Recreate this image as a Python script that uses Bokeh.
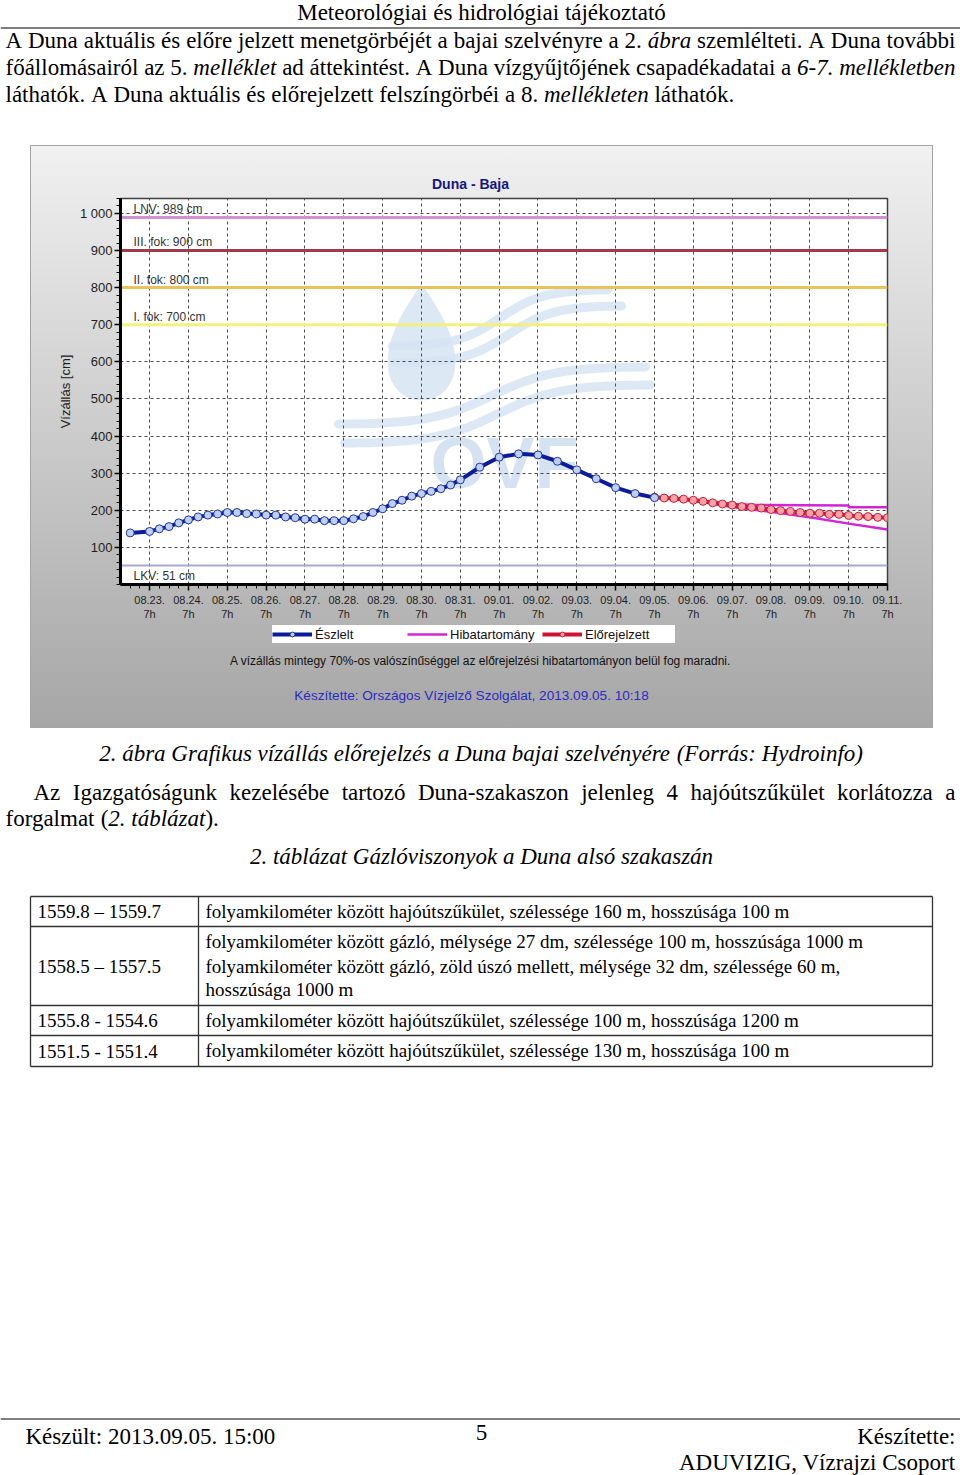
import math
from bokeh.plotting import figure
from bokeh.models import (Range1d, FixedTicker, Legend, LegendItem, Span, Spacer,
                          ColumnDataSource)
from bokeh.layouts import column, row
from bokeh.embed import file_html
from bokeh.resources import INLINE
from bokeh.core.properties import value

# ------------------------------------------------------------------ data
# time axis: hours counted from 2013.08.23. 7h
obs_hours = [-12, 0, 6, 12, 18, 24, 30, 36, 42, 48, 54, 60, 66, 72, 78, 84, 90,
             96, 102, 108, 114, 120, 126, 132, 138, 144, 150, 156, 162, 168,
             174, 180, 186, 192, 204, 216, 228, 240, 252, 264, 276, 288, 300, 312]
obs_levels = [139, 143, 150, 156, 166, 174, 182, 187, 190, 194, 194, 191, 190,
              187, 187, 182, 180, 176, 176, 172, 172, 172, 177, 183, 194, 204,
              218, 227, 238, 245, 251, 258, 268, 282, 316, 343, 352, 349, 332,
              309, 285, 261, 245, 234]

fc_hours = [312, 318, 324, 330, 336, 342, 348, 354, 360, 366, 372, 378, 384,
            390, 396, 402, 408, 414, 420, 426, 432, 438, 444, 450, 456]
fc_levels = [235, 233, 232, 230, 227, 224, 220, 217, 214, 210, 208, 206, 202,
             199, 197, 194, 192, 192, 189, 189, 186, 184, 183, 181, 180]

band_upper_hours = [312, 336, 360, 375, 432, 432, 456]
band_upper = [235, 229, 217, 214, 213, 208, 208]
band_lower_hours = [312, 336, 360, 384, 408, 432, 456]
band_lower = [235, 226, 209, 196, 181, 164, 148]

threshold_names = ["LNV: 989 cm", "III. fok: 900 cm", "II. fok: 800 cm",
                   "I. fok: 700 cm", "LKV: 51 cm"]
threshold_levels = [989, 900, 800, 700, 51]

day_labels = ["08.23.", "08.24.", "08.25.", "08.26.", "08.27.", "08.28.",
              "08.29.", "08.30.", "08.31.", "09.01.", "09.02.", "09.03.",
              "09.04.", "09.05.", "09.06.", "09.07.", "09.08.", "09.09.",
              "09.10.", "09.11."]
day_hours = [0, 24, 48, 72, 96, 120, 144, 168, 192, 216, 240, 264, 288, 312,
             336, 360, 384, 408, 432, 456]
y_tick_values = [100, 200, 300, 400, 500, 600, 700, 800, 900, 1000]
y_tick_labels = ["100", "200", "300", "400", "500", "600", "700", "800", "900", "1 000"]

legend_labels = ["Észlelt", "Hibatartomány", "Előrejelzett"]

table_km = ["1559.8 – 1559.7", "1558.5 – 1557.5", "1555.8 - 1554.6", "1551.5 - 1551.4"]
table_desc = [
    ["folyamkilométer között hajóútszűkület, szélessége 160 m, hosszúsága 100 m"],
    ["folyamkilométer között gázló, mélysége 27 dm, szélessége 100 m, hosszúsága 1000 m",
     "folyamkilométer között gázló, zöld úszó mellett, mélysége 32 dm, szélessége 60 m,",
     "hosszúsága 1000 m"],
    ["folyamkilométer között hajóútszűkület, szélessége 100 m, hosszúsága 1200 m"],
    ["folyamkilométer között hajóútszűkület, szélessége 130 m, hosszúsága 100 m"],
]

# ------------------------------------------------------------------ styles
SERIF = "Liberation Serif"
SANS = "Liberation Sans"
threshold_colors = ["#d391d3", "#a33a4a", "#e8c35c", "#f3f07c", "#a7a7d4"]
threshold_widths = [3, 3, 3, 3, 2]
threshold_label_dy = [-8, -8, -8, -8, 10]
OBS_LINE = dict(line_color="#0b1b9e", line_width=4)
OBS_PTS = dict(marker="circle", size=8, fill_color="#bcd0f4", line_color="#24349c", line_width=1)
FC_LINE = dict(line_color="#cf1232", line_width=4)
FC_PTS = dict(marker="circle", size=8, fill_color="#f7a3a6", line_color="#c8203c", line_width=1)
BAND_LINE = dict(line_color="#d424d4", line_width=2.5)
WATERMARK = "#d5e2f2"

# Times-compatible advance widths (per 1000 em) for justified text layout
ROMAN_W, ITALIC_W = {}, {}
def _set(tbl, chars, w):
    for c in chars:
        tbl[c] = w
_set(ROMAN_W, " .,", 250); _set(ROMAN_W, "ijlt:;", 278); _set(ROMAN_W, "fr-()I[]", 333)
_set(ROMAN_W, "sJ", 389); _set(ROMAN_W, "acez", 444)
_set(ROMAN_W, "bdghknopquvxy0123456789–", 500); _set(ROMAN_W, "FPS", 556)
_set(ROMAN_W, "ELTZ", 611); _set(ROMAN_W, "BCR", 667); _set(ROMAN_W, "ADGHKNOQUVXYw", 722)
_set(ROMAN_W, "m", 778); _set(ROMAN_W, "%", 833); _set(ROMAN_W, "M", 889); _set(ROMAN_W, "W", 944)
_set(ITALIC_W, " .,", 250); _set(ITALIC_W, "ijltf", 278); _set(ITALIC_W, "-()I:", 333)
_set(ITALIC_W, "srz", 389); _set(ITALIC_W, "cekvy", 444)
_set(ITALIC_W, "abdghnopqux0123456789", 500); _set(ITALIC_W, "AFLP", 611)
_set(ITALIC_W, "w", 667); _set(ITALIC_W, "mGDHKNOU", 722)
ACC = str.maketrans("áÁéÉíÍóÓöÖőŐúÚüÜűŰ", "aAeEiIoOoOoOuUuUuU")

def tw(s, it, size):
    tbl = ITALIC_W if it else ROMAN_W
    return sum(tbl.get(c, 500) for c in s.translate(ACC)) * size / 1000.0

def parse(markup):
    words, it = [], False
    for w in markup.split(" "):
        pieces = []
        for k, part in enumerate(w.split("*")):
            if k > 0:
                it = not it
            if part:
                pieces.append((part, it))
        words.append(pieces)
    return words

def place_line(out, markup, y, x0, x1=None, size=23, align="left"):
    words = parse(markup)
    widths = [sum(tw(p, it, size) for p, it in w) for w in words]
    gap = ROMAN_W[" "] * size / 1000.0
    if x1 is not None and len(words) > 1:
        gap = (x1 - x0 - sum(widths)) / (len(words) - 1)
    total = sum(widths) + gap * (len(words) - 1)
    x = x0 - total / 2 if align == "center" else x0
    for w, wd in zip(words, widths):
        xx = x
        for p, it in w:
            out.append((xx, y, p, it, size))
            xx += tw(p, it, size)
        x += wd + gap

def render(fig, pieces):
    groups = {}
    for x, y, p, it, size in pieces:
        groups.setdefault((it, size), []).append((x, y, p))
    for (it, size), items in groups.items():
        src = ColumnDataSource(dict(x=[a[0] for a in items], y=[a[1] for a in items],
                                    t=[a[2] for a in items]))
        fig.text(x="x", y="y", text="t", source=src, text_font=value(SERIF),
                 text_font_size=f"{size}px", text_font_style="italic" if it else "normal",
                 text_baseline="middle", text_align="left", text_color="black")

PAGE_W = 960
def page_fig(x0, x1, y0, y1, fill="white"):
    f = figure(width=x1 - x0, height=y1 - y0, x_range=Range1d(x0, x1), y_range=Range1d(y1, y0),
               toolbar_location=None, output_backend="svg", min_border=0,
               x_axis_type=None, y_axis_type=None, outline_line_color=None, frame_align=False)
    if fill is None:
        f.background_fill_alpha = 0
        f.border_fill_alpha = 0
    else:
        f.background_fill_color = fill
        f.border_fill_color = fill
    f.grid.visible = False
    return f

# chart image geometry (page pixels)
CX0, CX1, CY0, CY1 = 30, 933, 145, 728
HEAD_Y1, MAIN_Y1 = 196, 624
BORDER_L, BORDER_R, BORDER_T, BORDER_B = 90, 46, 2, 40
X_RANGE, Y_RANGE = (-18, 456), (0, 1040)

def grad(y):
    f = (y - CY0) / (CY1 - CY0)
    c = int(round(241 - (241 - 166) * f))
    return f"#{c:02x}{c:02x}{c:02x}"

def chart_css(y0, y1, top=False, bottom=False):
    sh = ["inset 1px 0 0 #a4a4a4", "inset -1px 0 0 #a4a4a4"]
    if top:
        sh.append("inset 0 1px 0 #a4a4a4")
    if bottom:
        sh.append("inset 0 -1px 0 #a4a4a4")
    return {"background": f"linear-gradient(to bottom, {grad(y0)}, {grad(y1)})",
            "box-shadow": ", ".join(sh)}

# ------------------------------------------------------------------ top text
top = page_fig(0, PAGE_W, 0, CY0)
pcs = []
place_line(pcs, "Meteorológiai és hidrológiai tájékoztató", 12, 481, size=23, align="center")
place_line(pcs, "A Duna aktuális és előre jelzett menetgörbéjét a bajai szelvényre a 2. *ábra* szemlélteti. A Duna további", 40, 5, 955)
place_line(pcs, "főállomásairól az 5. *melléklet* ad áttekintést. A Duna vízgyűjtőjének csapadékadatai a *6-7. mellékletben*", 67, 5, 955)
place_line(pcs, "láthatók. A Duna aktuális és előrejelzett felszíngörbéi a 8. *mellékleten* láthatók.", 94, 5)
render(top, pcs)
top.segment(x0=[0], y0=[27.5], x1=[PAGE_W], y1=[27.5], line_color="black", line_width=1.2)

# ------------------------------------------------------------------ chart header (title)
head = page_fig(CX0, CX1, CY0, HEAD_Y1, fill=None)
head.styles = chart_css(CY0, HEAD_Y1, top=True)
head.text(x=[470], y=[183], text=["Duna - Baja"], text_font=value(SANS), text_font_size="14px",
          text_font_style="bold", text_color="#15157c", text_align="center", text_baseline="middle")

# ------------------------------------------------------------------ chart body
chart = figure(width=CX1 - CX0, height=MAIN_Y1 - HEAD_Y1, x_range=Range1d(*X_RANGE),
               y_range=Range1d(*Y_RANGE), toolbar_location=None, output_backend="svg",
               min_border_left=BORDER_L, min_border_right=BORDER_R,
               min_border_top=BORDER_T, min_border_bottom=BORDER_B, frame_align=False,
               background_fill_color="white", border_fill_alpha=0,
               outline_line_color="#404040", outline_line_width=1.5)
chart.styles = chart_css(HEAD_Y1, MAIN_Y1)

# faint OVF logo watermark (drawn in page pixels, mapped onto the chart's scales)
FX0, FX1 = CX0 + BORDER_L, CX1 - BORDER_R
FY0, FY1 = HEAD_Y1 + BORDER_T, MAIN_Y1 - BORDER_B
def to_data(px, py):
    hx = X_RANGE[0] + (px - FX0) * (X_RANGE[1] - X_RANGE[0]) / (FX1 - FX0)
    vy = Y_RANGE[0] + (FY1 - py) * (Y_RANGE[1] - Y_RANGE[0]) / (FY1 - FY0)
    return hx, vy
drop = [to_data(421 + 44 * math.sin(t) * math.sin(t / 2), 342 - 58 * math.cos(t))
        for t in [2 * math.pi * k / 60 for k in range(61)]]
chart.patch([p[0] for p in drop], [p[1] for p in drop], fill_color=WATERMARK, fill_alpha=0.8,
            line_color=None, level="image")
waves = [(392, 607, 346, 289), (395, 621, 363, 305), (338, 645, 424, 366), (344, 650, 443, 384)]
for x0, x1, y0, y1 in waves:
    pts = []
    for k in range(41):
        px = x0 + (x1 - x0) * k / 40
        s = 0.5 + 0.5 * math.tanh((px - (x0 + x1) / 2) / ((x1 - x0) / 5))
        pts.append(to_data(px, y0 + (y1 - y0) * s))
    chart.line([p[0] for p in pts], [p[1] for p in pts], line_color=WATERMARK, line_width=9,
               line_alpha=0.8, line_cap="round", level="image")
ovf_x, ovf_y = to_data(430, 462)
chart.text(x=[ovf_x], y=[ovf_y], text=["OVF"], text_font=value(SANS), text_font_style="bold",
           text_font_size="72px", text_color=WATERMARK, text_baseline="middle", level="image")

for lvl, col, w in zip(threshold_levels, threshold_colors, threshold_widths):
    chart.add_layout(Span(location=lvl, dimension="width", line_color=col, line_width=w,
                          level="underlay"))
thr_src = ColumnDataSource(dict(x=[X_RANGE[0]] * len(threshold_levels), y=threshold_levels,
                                t=threshold_names, dy=threshold_label_dy))
chart.text(x="x", y="y", text="t", source=thr_src, x_offset=13, y_offset="dy",
           text_font=value(SANS), text_font_size="12px", text_color="#333333",
           text_baseline="middle")

chart.line(band_upper_hours, band_upper, **BAND_LINE)
chart.line(band_lower_hours, band_lower, **BAND_LINE)
chart.line(fc_hours, fc_levels, **FC_LINE)
chart.scatter(fc_hours, fc_levels, **FC_PTS)
chart.line(obs_hours, obs_levels, **OBS_LINE)
chart.scatter(obs_hours, obs_levels, **OBS_PTS)

chart.xaxis.ticker = FixedTicker(ticks=day_hours, minor_ticks=list(range(-12, 457, 6)))
chart.xaxis.major_label_overrides = {h: f"{d}\n7h" for h, d in zip(day_hours, day_labels)}
chart.yaxis.ticker = FixedTicker(ticks=y_tick_values, minor_ticks=list(range(0, 1041, 20)))
chart.yaxis.major_label_overrides = {v: l for v, l in zip(y_tick_values, y_tick_labels)}
for ax in (chart.xaxis[0], chart.yaxis[0]):
    ax.axis_line_width = 3
    ax.axis_line_color = "black"
    ax.major_tick_line_color = "black"
    ax.major_tick_line_width = 1.5
    ax.major_tick_out = 6
    ax.major_tick_in = 0
    ax.minor_tick_line_color = "black"
    ax.minor_tick_line_width = 1
    ax.minor_tick_out = 4
    ax.minor_tick_in = 0
    ax.major_label_text_font = SANS
    ax.major_label_text_color = "#1e1e1e"
chart.xaxis.major_label_text_font_size = "11px"
chart.xaxis.major_label_standoff = 3
chart.yaxis.major_label_text_font_size = "13px"
chart.yaxis.major_label_standoff = 2
chart.yaxis.axis_label = "Vízállás [cm]"
chart.yaxis.axis_label_text_font = SANS
chart.yaxis.axis_label_text_font_size = "13px"
chart.yaxis.axis_label_text_font_style = "normal"
chart.yaxis.axis_label_text_color = "#222222"
chart.yaxis.axis_label_standoff = 4
chart.grid.grid_line_color = "#4a4a4a"
chart.grid.grid_line_dash = "3 3"
chart.grid.grid_line_width = 1

# ------------------------------------------------------------------ chart footer (legend, notes)
foot = page_fig(CX0, CX1, MAIN_Y1, CY1, fill=None)
foot.styles = chart_css(MAIN_Y1, CY1, bottom=True)
NA = [float("nan")]
lg_obs = [foot.line(NA, NA, **OBS_LINE), foot.scatter(NA, NA, **OBS_PTS)]
lg_band = [foot.line(NA, NA, **BAND_LINE)]
lg_fc = [foot.line(NA, NA, **FC_LINE), foot.scatter(NA, NA, **FC_PTS)]
legend = Legend(items=[LegendItem(label=lab, renderers=rs)
                       for lab, rs in zip(legend_labels, [lg_obs, lg_band, lg_fc])],
                location=(242, CY1 - 643), orientation="horizontal",
                background_fill_color="white", background_fill_alpha=1, border_line_color=None,
                padding=0, margin=0, spacing=2, glyph_width=40, glyph_height=12,
                label_standoff=3, label_width=90, label_height=18,
                label_text_font=SANS, label_text_font_size="13px", label_text_color="#111111")
foot.add_layout(legend)
foot.text(x=[480, 471], y=[660, 695],
          text=["A vízállás mintegy 70%-os valószínűséggel az előrejelzési hibatartományon belül fog maradni.",
                "Készítette: Országos Vízjelző Szolgálat, 2013.09.05. 10:18"],
          text_font=value(SANS), text_font_size=["12px", "13.6px"],
          text_color=["#111111", "#2b2bc4"], text_align="center", text_baseline="middle")

# ------------------------------------------------------------------ bottom text
bot = page_fig(0, PAGE_W, CY1, 1475)
pcs = []
place_line(pcs, "*2. ábra Grafikus vízállás előrejelzés a Duna bajai szelvényére (Forrás: Hydroinfo)*", 753, 481, align="center")
place_line(pcs, "Az Igazgatóságunk kezelésébe tartozó Duna-szakaszon jelenleg 4 hajóútszűkület korlátozza a", 792, 33, 955)
place_line(pcs, "forgalmat (*2. táblázat*).", 818, 5)
place_line(pcs, "*2. táblázat Gázlóviszonyok a Duna alsó szakaszán*", 856, 481, align="center")

row_edges = [896, 926, 1005, 1035, 1066]
desc_line_y = [[911], [941, 966, 989], [1020], [1050]]
for km, descs, ys, t0, t1 in zip(table_km, table_desc, desc_line_y, row_edges[:-1], row_edges[1:]):
    place_line(pcs, km, (t0 + t1) / 2, 37, size=19)
    for d, yy in zip(descs, ys):
        place_line(pcs, d, yy, 205, size=19)
place_line(pcs, "Készült: 2013.09.05. 15:00", 1436, 25)
render(bot, pcs)
bot.text(x=[481, 955, 955], y=[1432, 1436, 1462], text=["5", "Készítette:", "ADUVIZIG, Vízrajzi Csoport"],
         text_align=["center", "right", "right"], text_font=value(SERIF), text_font_size="23px",
         text_baseline="middle", text_color="black")
bot.segment(x0=[30] * len(row_edges), y0=row_edges, x1=[932] * len(row_edges), y1=row_edges,
            line_color="#333333", line_width=1.3)
bot.segment(x0=[30, 198, 932], y0=[row_edges[0]] * 3, x1=[30, 198, 932], y1=[row_edges[-1]] * 3,
            line_color="#333333", line_width=1.3)
bot.segment(x0=[0], y0=[1418.5], x1=[PAGE_W], y1=[1418.5], line_color="black", line_width=1)

chart_block = row(Spacer(width=CX0, height=CY1 - CY0), column(head, chart, foot))
layout = column(top, chart_block, bot)
open("out.html", "w").write(file_html(layout, INLINE))
